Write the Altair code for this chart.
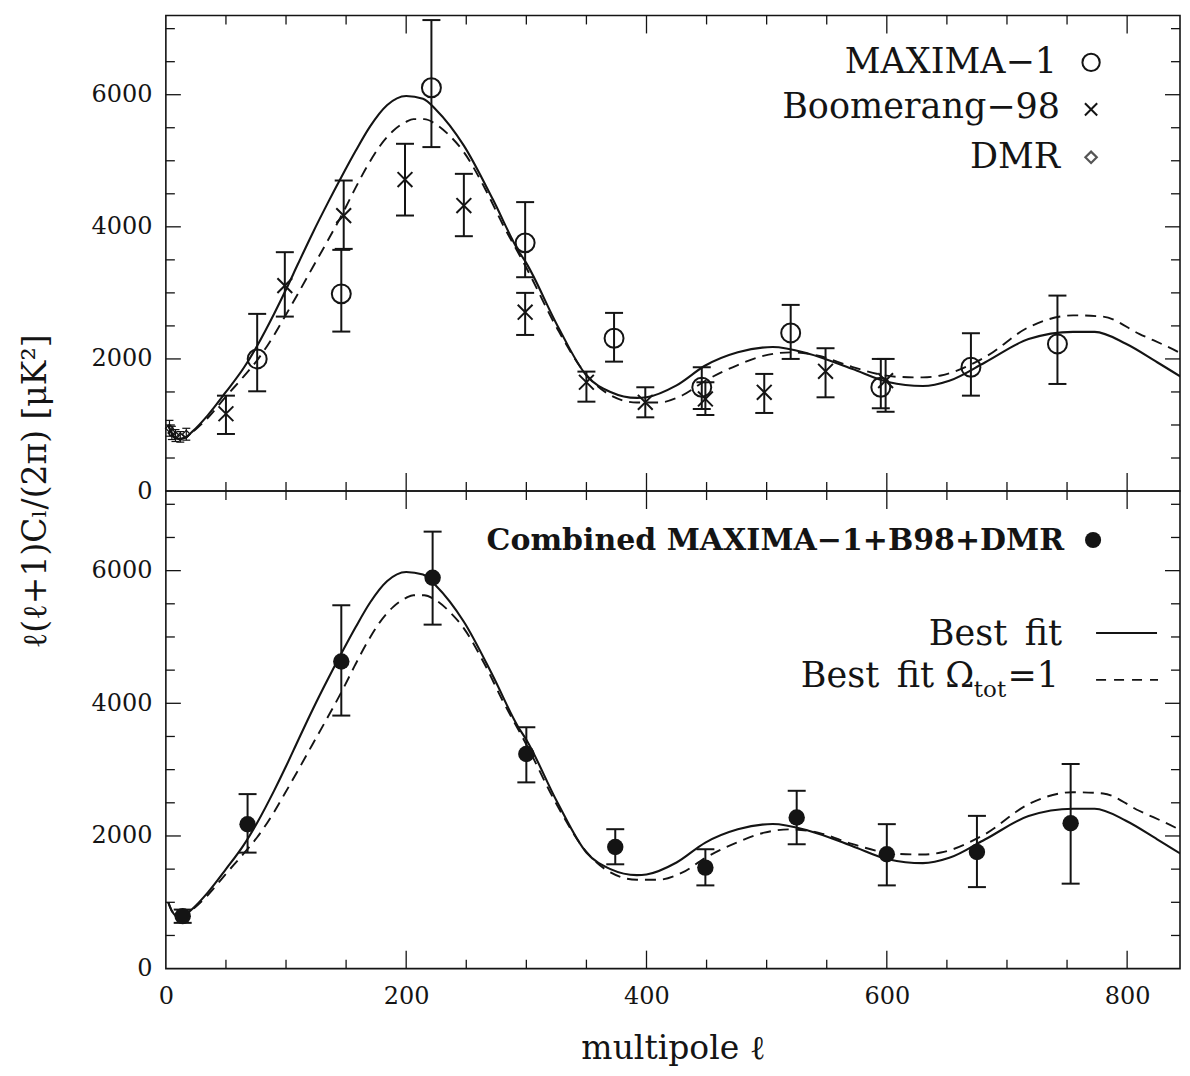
import altair as alt
import pandas as pd

INK = "#141414"
SERIF = "DejaVu Serif"

# ---------------- data ----------------
# model curves
best_ell = [2, 5, 10, 15, 22, 35, 50, 65, 76, 90, 100, 110, 122, 135, 146, 158, 170,
            184, 200, 214, 225, 248, 272, 293, 300, 326, 350, 370, 392, 400, 425, 449,
            476, 505, 535, 571, 601, 630, 652, 682, 718, 755, 773, 799, 825, 850]
best_val = [1000, 870, 790, 800, 900, 1150, 1500, 1870, 2200, 2680, 3050, 3440, 3900,
            4370, 4750, 5150, 5520, 5840, 5980, 5940, 5770, 5230, 4420, 3650, 3450,
            2500, 1750, 1500, 1410, 1420, 1600, 1900, 2100, 2180, 2080, 1850, 1650,
            1590, 1670, 1950, 2300, 2410, 2410, 2230, 1950, 1670]
flat_ell = [2, 5, 10, 15, 22, 35, 50, 65, 76, 90, 99, 110, 122, 135, 147, 157, 167, 178,
            189, 200, 206, 215, 225, 235, 248, 265, 280, 300, 326, 350, 370, 392, 410,
            430, 449, 475, 498, 520, 545, 571, 608, 630, 645, 682, 718, 755, 780, 810,
            843, 850]
flat_val = [1000, 870, 790, 800, 890, 1110, 1430, 1740, 1980, 2360, 2640, 2990, 3380,
            3800, 4200, 4560, 4900, 5220, 5450, 5590, 5630, 5630, 5550, 5400, 5130,
            4600, 4050, 3380, 2450, 1760, 1450, 1340, 1340, 1450, 1670, 1900, 2050,
            2100, 2040, 1880, 1730, 1720, 1750, 2030, 2480, 2660, 2640, 2380, 2100, 2030]

# MAXIMA-1 (open circles)
maxima_ell = [76, 146, 221, 299, 373, 446, 520, 595, 670, 742]
maxima_val = [2000, 2985, 6105, 3757, 2313, 1571, 2394, 1571, 1874, 2227]
maxima_lo = [1510, 2414, 5207, 3237, 1959, 1242, 2000, 1253, 1444, 1621]
maxima_hi = [2682, 3651, 7130, 4374, 2697, 1874, 2818, 2000, 2389, 2959]

# Boomerang-98 (crosses)
boom_ell = [50, 99, 148, 199, 248, 299, 350, 399, 449, 498, 549, 599]
boom_val = [1170, 3110, 4170, 4716, 4322, 2707, 1647, 1343, 1394, 1495, 1813, 1672]
boom_lo = [864, 2641, 3666, 4171, 3858, 2363, 1353, 1116, 1151, 1182, 1419, 1200]
boom_hi = [1444, 3616, 4701, 5257, 4802, 3000, 1808, 1571, 1647, 1773, 2162, 2000]

# DMR (small diamonds)
dmr_ell = [3, 5, 8, 12, 17]
dmr_val = [950, 880, 840, 820, 860]
dmr_lo = [830, 780, 750, 740, 770]
dmr_hi = [1070, 980, 930, 900, 950]

# Combined MAXIMA-1 + B98 + DMR (filled circles)
comb_ell = [14, 68, 146, 222, 300, 374, 449, 525, 600, 675, 753]
comb_val = [791, 2177, 4631, 5892, 3236, 1834, 1523, 2279, 1724, 1759, 2192]
comb_lo = [690, 1749, 3815, 5186, 2808, 1573, 1255, 1875, 1255, 1229, 1281]
comb_hi = [890, 2631, 5478, 6588, 3639, 2102, 1800, 2681, 2178, 2303, 3085]

# axis ticks / labels
x_labels = [0, 200, 400, 600, 800]
x_minor = [50, 100, 150, 250, 300, 350, 450, 500, 550, 650, 700, 750]
x_major = [200, 400, 600, 800]
y_labels = [0, 2000, 4000, 6000]
y_minor = [500, 1000, 1500, 2500, 3000, 3500, 4500, 5000, 5500, 6500, 7000]
y_major = [2000, 4000, 6000]

Y_TITLE = "\u2113(\u2113+1)C\u2097/(2\u03c0) [\u03bcK\u00b2]"
X_TITLE = "multipole \u2113"

# ---------------- layout ----------------
W = 1015
H_TOP = 476
H_BOT = 478

xscale = alt.Scale(domain=[0, 844], nice=False, zero=False)
yscale = alt.Scale(domain=[0, 7200], nice=False, zero=False)

yaxis_top = alt.Axis(values=y_labels, format="d", ticks=False, domain=False, grid=False,
                     labelFont=SERIF, labelFontSize=24, labelColor=INK, labelPadding=14,
                     labelFlush=False, labelOverlap=False,
                     title=Y_TITLE, titleFont=SERIF, titleFontSize=33,
                     titleFontWeight="normal", titleColor=INK,
                     titleX=-130, titleY=H_TOP, titleAngle=270,
                     titleAlign="center", titleBaseline="middle")
yaxis_bot = alt.Axis(values=y_labels, format="d", ticks=False, domain=False, grid=False,
                     labelFont=SERIF, labelFontSize=24, labelColor=INK, labelPadding=14,
                     labelFlush=False, labelOverlap=False, title="")
xaxis_bot = alt.Axis(values=x_labels, format="d", ticks=False, domain=False, grid=False,
                     labelFont=SERIF, labelFontSize=24, labelColor=INK, labelPadding=16,
                     labelFlush=False, labelOverlap=False,
                     title=X_TITLE, titleFont=SERIF, titleFontSize=33,
                     titleFontWeight="normal", titleColor=INK, titlePadding=24)


def X(field, axis):
    if axis is None:
        return alt.X(field, type="quantitative", scale=xscale, axis=None)
    return alt.X(field, type="quantitative", scale=xscale, axis=axis)


def Y(field, axis):
    return alt.Y(field, type="quantitative", scale=yscale, axis=axis)


def tick_layers(H, xa, ya):
    layers = []
    for vals, L in ((x_minor, 9), (x_major, 18)):
        base = alt.Chart(pd.DataFrame({"t": vals})).mark_rule(color=INK, strokeWidth=1.3)
        layers.append(base.encode(x=X("t", xa), y=alt.value(H), y2=alt.value(H - L)))
        layers.append(base.encode(x=X("t", xa), y=alt.value(0), y2=alt.value(L)))
    for vals, L in ((y_minor, 9), (y_major, 15)):
        base = alt.Chart(pd.DataFrame({"t": vals})).mark_rule(color=INK, strokeWidth=1.3)
        layers.append(base.encode(y=Y("t", ya), x=alt.value(0), x2=alt.value(L)))
        layers.append(base.encode(y=Y("t", ya), x=alt.value(W), x2=alt.value(W - L)))
    return layers


def curve_layers(xa, ya):
    best = pd.DataFrame({"ell": best_ell, "v": best_val})
    flat = pd.DataFrame({"ell": flat_ell, "v": flat_val})
    return [
        alt.Chart(flat).mark_line(color=INK, strokeWidth=1.9, strokeDash=[11, 7],
                                  interpolate="monotone", clip=True)
        .encode(x=X("ell", xa), y=Y("v", ya)),
        alt.Chart(best).mark_line(color=INK, strokeWidth=2.1, interpolate="monotone",
                                  clip=True)
        .encode(x=X("ell", xa), y=Y("v", ya)),
    ]


def errbar_layers(ell, val, lo, hi, xa, ya, cap=18, sw=2.0):
    df = pd.DataFrame({"ell": ell, "v": val, "lo": lo, "hi": hi})
    c = alt.Chart(df)
    return [
        c.mark_rule(color=INK, strokeWidth=sw).encode(x=X("ell", xa), y=Y("lo", ya), y2="hi"),
        c.mark_tick(color=INK, orient="horizontal", size=cap, thickness=sw, opacity=1)
        .encode(x=X("ell", xa), y=Y("lo", ya)),
        c.mark_tick(color=INK, orient="horizontal", size=cap, thickness=sw, opacity=1)
        .encode(x=X("ell", xa), y=Y("hi", ya)),
    ], c


CROSS = "M-1,-1L1,1M-1,1L1,-1"
one = pd.DataFrame({"a": [0]})


def text_at(s, x, y, size=35, align="right", weight="normal"):
    return alt.Chart(pd.DataFrame({"s": [s]})).mark_text(
        align=align, baseline="alphabetic", font=SERIF, fontSize=size,
        fontWeight=weight, color=INK).encode(text="s:N", x=alt.value(x), y=alt.value(y))


# ---------------- top panel ----------------
top_layers = tick_layers(H_TOP, None, yaxis_top)
top_layers += curve_layers(None, yaxis_top)

eb, c = errbar_layers(boom_ell, boom_val, boom_lo, boom_hi, None, yaxis_top)
top_layers += eb
top_layers.append(c.mark_point(shape=CROSS, size=220, filled=False, strokeWidth=2,
                               color=INK, opacity=1)
                  .encode(x=X("ell", None), y=Y("v", yaxis_top)))

eb, c = errbar_layers(maxima_ell, maxima_val, maxima_lo, maxima_hi, None, yaxis_top)
top_layers += eb
top_layers.append(c.mark_point(shape="circle", size=360, filled=False, strokeWidth=2,
                               color=INK, opacity=1)
                  .encode(x=X("ell", None), y=Y("v", yaxis_top)))

eb, c = errbar_layers(dmr_ell, dmr_val, dmr_lo, dmr_hi, None, yaxis_top, cap=8, sw=1.2)
top_layers += eb
top_layers.append(c.mark_point(shape="diamond", size=60, filled=False, strokeWidth=1.3,
                               color=INK, opacity=1)
                  .encode(x=X("ell", None), y=Y("v", yaxis_top)))

# legend (top)
top_layers += [
    text_at("MAXIMA\u22121", 892, 58),
    text_at("Boomerang\u221298", 895, 103),
    text_at("DMR", 895, 153),
    alt.Chart(one).mark_point(shape="circle", size=300, filled=False, strokeWidth=2,
                              color=INK, opacity=1)
    .encode(x=alt.value(926), y=alt.value(47)),
    alt.Chart(one).mark_point(shape=CROSS, size=150, filled=False, strokeWidth=2,
                              color=INK, opacity=1)
    .encode(x=alt.value(926), y=alt.value(94)),
    alt.Chart(one).mark_point(shape="diamond", size=130, filled=False, strokeWidth=2.2,
                              color="#555", opacity=1)
    .encode(x=alt.value(926), y=alt.value(142)),
]

top = alt.layer(*top_layers).properties(width=W, height=H_TOP)

# ---------------- bottom panel ----------------
bot_layers = tick_layers(H_BOT, xaxis_bot, yaxis_bot)
bot_layers += curve_layers(xaxis_bot, yaxis_bot)
eb, c = errbar_layers(comb_ell, comb_val, comb_lo, comb_hi, xaxis_bot, yaxis_bot)
bot_layers += eb
bot_layers.append(c.mark_circle(size=270, color=INK, opacity=1)
                  .encode(x=X("ell", xaxis_bot), y=Y("v", yaxis_bot)))

bot_layers += [
    text_at("Combined MAXIMA\u22121+B98+DMR", 899, 59, size=30, weight="bold"),
    alt.Chart(one).mark_circle(size=260, color=INK, opacity=1)
    .encode(x=alt.value(928), y=alt.value(49)),
    text_at("Best\u2002fit", 897, 154),
    alt.Chart(one).mark_rule(color=INK, strokeWidth=2)
    .encode(x=alt.value(931), x2=alt.value(992), y=alt.value(142)),
    text_at("Best\u2002fit \u03a9", 809, 196),
    text_at("tot", 841, 206, size=23),
    text_at("=1", 894, 196),
    alt.Chart(one).mark_rule(color=INK, strokeWidth=1.6, strokeDash=[10, 8])
    .encode(x=alt.value(931), x2=alt.value(993), y=alt.value(189)),
]

bottom = alt.layer(*bot_layers).properties(width=W, height=H_BOT)

chart = (
    alt.vconcat(top, bottom, spacing=0, bounds="flush")
    .properties(padding={"left": 11, "top": 5, "right": 0, "bottom": 0},
                background="white")
    .configure_view(stroke=INK, strokeWidth=1.6)
)

chart.save("out.html", embed_options={"renderer": "svg", "actions": False})
